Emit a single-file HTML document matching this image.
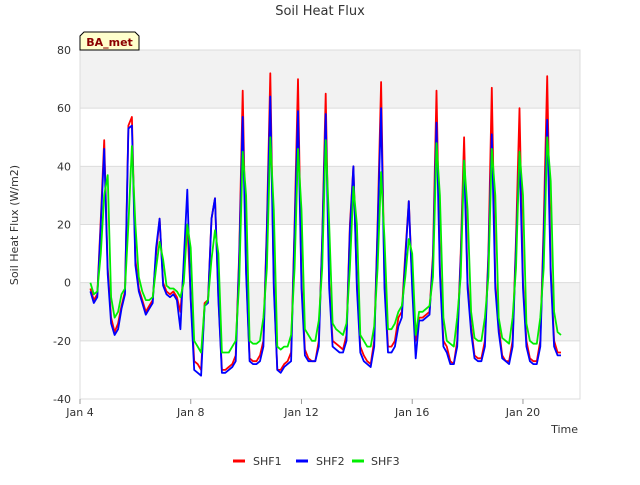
<!DOCTYPE html>
<html><head><meta charset="utf-8"><style>
body{margin:0;background:#fff;font-family:"Liberation Sans","DejaVu Sans",sans-serif}
svg text{font-family:"DejaVu Sans","Liberation Sans",sans-serif}
</style></head><body>
<svg id="c" width="640" height="480" xmlns="http://www.w3.org/2000/svg">
<text x="320" y="15" text-anchor="middle" font-size="13" fill="#333">Soil Heat Flux</text>
<g id="plot"></g>
<text transform="translate(18,225) rotate(-90)" text-anchor="middle" font-size="11" fill="#333">Soil Heat Flux (W/m2)</text>
<text x="578" y="433" text-anchor="end" font-size="11" fill="#333">Time</text>
<g>
<g><line x1="233" y1="461" x2="245" y2="461" stroke="#ff0000" stroke-width="3"/><text x="253" y="465" font-size="11" fill="#333">SHF1</text></g>
<g><line x1="296" y1="461" x2="308" y2="461" stroke="#0000ff" stroke-width="3"/><text x="316" y="465" font-size="11" fill="#333">SHF2</text></g>
<g><line x1="352" y1="461" x2="364" y2="461" stroke="#00ee00" stroke-width="3"/><text x="371" y="465" font-size="11" fill="#333">SHF3</text></g>
</g>
<g><path d="M80,50 L80,36 L84,32 L135,32 L139,36 L139,50 Z" fill="#ffffcc" stroke="#000" stroke-width="1"/><text x="109.5" y="46" text-anchor="middle" font-size="11" font-weight="bold" fill="#8b0000">BA_met</text></g>
</svg>
<script>
const yTicks=[-40,-20,0,20,40,60,80];
const xTickDays=[4,8,12,16,20];
const xTickLabels=["Jan 4","Jan 8","Jan 12","Jan 16","Jan 20"];
const startDay=4.375; const stepDays=0.125;
const shf1=[-2,-6,-4,22,49,
5,-12,-17,-14,-8,-3,54,57,
8,-2,-6,-10,-8,-6,10,22,
0,-3,-4,-3,-5,-10,5,20,
-5,-27,-28,-30,-7,-6,22,29,
-5,-30,-30,-29,-28,-25,10,66,
5,-26,-27,-27,-25,-20,20,72,
0,-30,-30,-28,-27,-24,20,70,
0,-23,-26,-27,-27,-20,15,65,
0,-20,-21,-22,-23,-18,20,40,
0,-22,-25,-27,-28,-20,20,69,
0,-22,-22,-20,-12,-10,10,28,
0,-20,-12,-12,-11,-10,10,66,
5,-20,-22,-27,-28,-20,10,50,
0,-15,-25,-26,-26,-20,10,67,
0,-15,-25,-27,-27,-20,15,60,
0,-20,-26,-27,-27,-20,20,71,
5,-20,-24,-24];
const shf2=[-3,-7,-5,20,46,
3,-14,-18,-16,-9,-4,53,54,
6,-3,-7,-11,-9,-7,12,22,
-1,-4,-5,-4,-6,-16,8,32,
-6,-30,-31,-32,-8,-7,22,29,
-6,-31,-31,-30,-29,-27,8,57,
3,-27,-28,-28,-27,-22,18,64,
-2,-30,-31,-29,-28,-27,18,59,
-2,-25,-27,-27,-27,-22,14,58,
-2,-22,-23,-24,-24,-20,18,40,
-2,-24,-27,-28,-29,-22,18,60,
-2,-24,-24,-22,-15,-12,8,28,
-2,-26,-13,-13,-12,-11,8,55,
3,-22,-24,-28,-28,-22,8,42,
-2,-17,-26,-27,-27,-22,8,51,
-2,-17,-26,-27,-28,-22,12,45,
-2,-22,-27,-28,-28,-22,16,56,
3,-22,-25,-25];
const shf3=[0,-4,-3,10,30,
37,-5,-12,-10,-4,-2,20,47,
20,2,-3,-6,-6,-5,5,14,
8,-1,-2,-2,-3,-5,0,20,
12,-20,-22,-24,-8,-6,8,18,
10,-24,-24,-24,-22,-20,0,45,
30,-20,-21,-21,-20,-12,5,50,
25,-22,-23,-22,-22,-18,5,46,
25,-16,-18,-20,-20,-13,5,49,
20,-14,-16,-17,-18,-14,5,33,
20,-18,-20,-22,-22,-15,5,38,
15,-16,-16,-14,-10,-8,2,15,
10,-18,-10,-10,-9,-8,2,48,
30,-12,-20,-21,-22,-12,2,42,
25,-10,-19,-20,-20,-12,2,46,
30,-12,-19,-20,-21,-12,5,45,
30,-14,-20,-21,-21,-12,5,50,
35,-10,-17,-18];
const X0=80,X1=580,Y0=50,Y1=399;
const dMin=4,dMax=22.06,vMin=-40,vMax=80;
function xs(d){return X0+(d-dMin)/(dMax-dMin)*(X1-X0);}
function ys(v){return Y1-(v-vMin)/(vMax-vMin)*(Y1-Y0);}
const NS="http://www.w3.org/2000/svg";
const plot=document.getElementById('plot');
function mk(t,a){const e=document.createElementNS(NS,t);for(const k in a)e.setAttribute(k,a[k]);return e;}
for(let i=0;i<yTicks.length-1;i++){
  if(i%2===1){
    const r=mk('rect',{x:X0,y:ys(yTicks[i+1]),width:X1-X0,height:ys(yTicks[i])-ys(yTicks[i+1]),fill:'#f2f2f2'});
    
    
    plot.appendChild(r);
  }
}
yTicks.forEach(v=>{
  const l=mk('line',{x1:X0,x2:X1,y1:ys(v),y2:ys(v),stroke:'#dcdcdc','stroke-width':1});
  
  
  plot.appendChild(l);
  const t=mk('text',{x:X0-9,y:ys(v)+4,'text-anchor':'end','font-size':11,fill:'#333'});
  t.textContent=v;
  
  
  plot.appendChild(t);
});
const bd=mk('rect',{x:X0,y:Y0,width:X1-X0,height:Y1-Y0,fill:'none',stroke:'#dcdcdc'});


plot.appendChild(bd);
xTickDays.forEach((d,i)=>{
  const l=mk('line',{x1:xs(d),x2:xs(d),y1:Y1,y2:Y1+5,stroke:'#999'});
  
  
  plot.appendChild(l);
  const t=mk('text',{x:xs(d),y:Y1+17,'text-anchor':'middle','font-size':11,fill:'#333'});
  t.textContent=xTickLabels[i];
  
  
  plot.appendChild(t);
});
[[shf1,'#ff0000','shf1-line'],[shf2,'#0000ff','shf2-line'],[shf3,'#00ee00','shf3-line']].forEach(s=>{
  const pts=s[0].map((v,i)=>xs(startDay+i*stepDays).toFixed(1)+','+ys(v).toFixed(1)).join(' ');
  const p=mk('polyline',{points:pts,fill:'none',stroke:s[1],'stroke-width':1.8,'stroke-linejoin':'round'});
  
  
  plot.appendChild(p);
});
</script>
</body></html>
